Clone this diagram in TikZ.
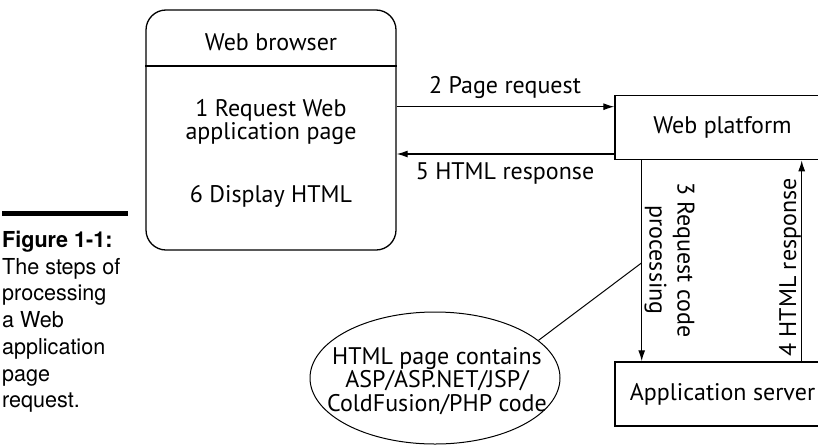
\documentclass[tikz,border=0pt]{standalone}
\usepackage{fontspec}
\setmainfont{PT Sans}
\newfontfamily\capfont[FakeStretch=0.98]{TeX Gyre Heros}
\usetikzlibrary{arrows.meta,shapes.geometric}
\tikzset{
  box/.style={draw, line width=1.3pt, minimum width=215pt, minimum height=64pt, inner sep=0pt, font=\fontsize{24}{19}\selectfont},
  txt/.style={font=\fontsize{24}{19}\selectfont, inner sep=0pt},
  flow/.style={line width=1.2pt, -{Latex[length=11pt,width=7pt]}},
}
\begin{document}
\begin{tikzpicture}[x=1pt,y=-1pt]
  \clip (0,0) rectangle (818,447);

  \node[draw, line width=1.3pt, rounded corners=20pt, minimum width=250pt, minimum height=240pt] (browser) at (271,130) {};
  \draw[line width=1.3pt] ([yshift=-56.7pt]browser.north west) -- ([yshift=-56.7pt]browser.north east);
  \node[txt, anchor=base] (wbtitle) at (271,50) {Web browser};
  \node[txt, anchor=base, align=center] (wbstep) at (271,139.3) {1 Request Web\\application page};
  \node[txt, anchor=base] (wbshow) at (271,202.7) {6 Display HTML};

  \node[box] (platform) at (722.5,127.7) {Web platform};
  \node[box] (appserver) at (722.5,393.9) {Application server};

  \draw[flow] (browser.east |- 0,106.7) -- (platform.west |- 0,106.7);
  \draw[flow] (platform.west |- 0,154) -- (browser.east |- 0,154);
  \node[txt, anchor=base] (req) at (505,93.3) {2 Page request};
  \node[txt, anchor=base] (resp) at (505,179.3) {5 HTML response};

  \draw[flow] (platform.south -| 641.7,0) -- coordinate[pos=0.51] (tap) (appserver.north -| 641.7,0);
  \draw[flow] (appserver.north -| 801.7,0) -- (platform.south -| 801.7,0);
  \node[txt, rotate=-90, align=center, font=\fontsize{24}{28}\selectfont] (proc) at (669.5,260) {3 Request code\\processing};
  \node[txt, rotate=90] (aresp) at (790,267.5) {4 HTML response};

  \node[draw, line width=1pt, ellipse, minimum width=250pt, minimum height=132pt, inner sep=0pt] (ell) at (435,378) {};
  \node[txt, align=center, font=\fontsize{24}{23.3}\selectfont] (elltext) at (437,381) {HTML page contains\\ASP/ASP.NET/JSP/\\ColdFusion/PHP code};
  \draw[line width=1pt] (ell.20) -- (tap);

  \draw[line width=5.3pt] (2,213.4) -- (128,213.4);
  \node[anchor=base west, align=left, inner sep=0pt, font=\capfont\fontsize{22}{26.7}\selectfont] (caption) at (2,407.7)
    {\textbf{Figure 1-1:}\\The steps of\\processing\\a Web\\application\\page\\request.};
\end{tikzpicture}
\end{document}
